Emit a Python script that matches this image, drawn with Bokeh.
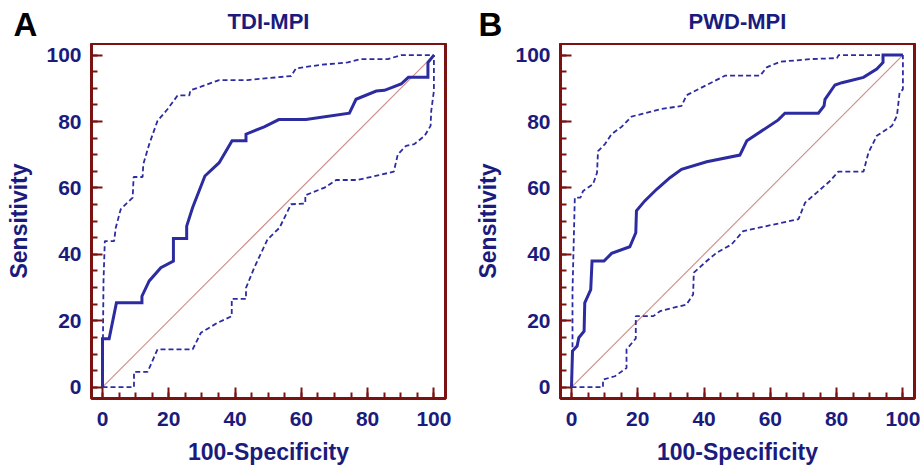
from bokeh.plotting import figure
from bokeh.models import Range1d, FixedTicker, Label
from bokeh.layouts import row, column
from bokeh.embed import file_html
from bokeh.resources import INLINE

# ---------------- data ----------------
panel_letters = ["A", "B"]
panel_titles = ["TDI-MPI", "PWD-MPI"]
x_axis_label = "100-Specificity"
y_axis_label = "Sensitivity"
tick_values = [0, 20, 40, 60, 80, 100]
minor_tick_values = [0, 5, 10, 15, 20, 25, 30, 35, 40, 45, 50, 55, 60, 65, 70, 75, 80, 85, 90, 95, 100]

# Panel A: TDI-MPI ROC curve
a_roc_x = [0, 0, 2.0, 4.2, 11.9, 11.9, 14.1, 17.6, 21.4, 21.4, 25.4, 25.4, 27.2, 30.9, 35.2, 39.1, 43.3,
           43.3, 48.8, 53.2, 61.4, 74.5, 76.5, 82.6, 85.1, 90.1, 92.3, 98.2, 98.2, 100]
a_roc_y = [0, 14.6, 14.6, 25.4, 25.4, 27.4, 32.0, 36.0, 38.0, 44.8, 44.8, 48.5, 54.1, 63.6, 67.6, 74.2, 74.2,
           76.2, 78.4, 80.6, 80.6, 82.5, 86.7, 89.2, 89.4, 91.3, 93.3, 93.3, 97.8, 100]
a_up_x = [0, 0.3, 0.7, 3.5, 4.0, 5.5, 9.1, 9.4, 12.1, 12.3, 14.1, 16.6, 19.6, 22.7, 26.2, 26.5, 29.7, 35.2,
          43.8, 56.9, 58.4, 66.0, 74.0, 78.0, 86.1, 90.1, 100]
a_up_y = [0, 32.0, 44.0, 44.0, 48.0, 53.6, 57.1, 63.3, 63.3, 67.1, 73.2, 80.2, 83.7, 87.9, 87.9, 89.4, 90.5,
          92.5, 92.5, 93.7, 96.0, 97.1, 97.8, 98.8, 98.8, 100, 100]
a_lo_x = [0, 9.5, 9.5, 13.6, 16.6, 27.2, 29.7, 34.7, 39.0, 39.0, 43.3, 43.3, 45.8, 49.8, 53.4, 56.9, 61.2,
          61.2, 67.0, 70.5, 77.0, 87.9, 89.1, 91.6, 94.1, 97.2, 99.0, 99.2, 100, 100]
a_lo_y = [0, 0, 4.6, 4.6, 11.4, 11.4, 16.4, 19.4, 21.4, 26.6, 26.6, 29.9, 36.0, 44.5, 48.0, 55.1, 55.3,
          57.8, 60.1, 62.4, 62.4, 64.9, 70.1, 72.7, 73.2, 75.7, 78.7, 83.2, 89.2, 100]

# Panel B: PWD-MPI ROC curve
b_roc_x = [0, 0.3, 1.7, 2.2, 3.8, 4.0, 5.8, 6.2, 9.8, 12.1, 17.6, 19.4, 19.6, 22.1, 25.7, 29.7, 33.2, 40.8,
           50.8, 52.9, 62.4, 64.4, 74.5, 76.2, 76.5, 79.5, 81.6, 88.1, 92.1, 94.0, 94.0, 100]
b_roc_y = [0, 10.9, 12.4, 14.9, 16.9, 25.4, 29.4, 38.0, 38.0, 40.3, 42.3, 46.5, 53.1, 56.1, 59.6, 63.1, 65.6,
           67.9, 69.9, 74.2, 80.5, 82.5, 82.5, 84.7, 86.7, 91.0, 91.7, 93.3, 95.8, 97.8, 100, 100]
b_up_x = [0, 0.3, 0.3, 1.0, 2.7, 3.5, 6.5, 7.7, 8.0, 10.1, 12.1, 15.1, 18.1, 21.6, 26.7, 33.2, 34.7, 38.8,
          46.3, 56.9, 58.9, 62.9, 72.0, 80.1, 80.6, 100]
b_up_y = [0, 11.5, 28.9, 57.1, 57.1, 59.1, 61.1, 64.6, 71.1, 73.2, 76.2, 78.4, 81.5, 82.4, 83.7, 84.7, 87.9,
          90.0, 93.8, 93.8, 96.3, 98.0, 98.8, 99.1, 100, 100]
b_lo_x = [0, 9.5, 9.5, 13.1, 16.6, 16.6, 19.4, 19.4, 24.7, 26.7, 34.7, 36.7, 36.9, 40.8, 43.8, 48.3, 51.8,
          68.5, 70.5, 74.0, 78.0, 80.5, 88.1, 89.6, 92.1, 96.7, 98.2, 99.0, 100, 100]
b_lo_y = [0, 0, 2.3, 3.3, 5.8, 11.4, 14.7, 21.4, 21.4, 22.9, 24.9, 27.9, 34.5, 38.0, 40.5, 43.0, 47.0,
          50.6, 55.6, 58.6, 62.1, 64.9, 64.9, 70.6, 75.7, 78.7, 81.7, 88.7, 89.7, 100]

diag_x = [0, 100]
diag_y = [0, 100]

# ---------------- style ----------------
NAVY = "#1b1b7d"
CURVE = "#2c2ca0"
FRAME = "#7b1212"
DIAG = "#d08a86"
FONT = "Liberation Sans"
STRIP_H = 43


def make_panel(rx, ry, ux, uy, lx, ly, border_left, border_right, fw):
    p = figure(width=border_left + fw + border_right, height=422, title=None,
               frame_width=fw, frame_height=355,
               x_range=Range1d(-3.32, 103.5), y_range=Range1d(-3.4, 103.5),
               output_backend="svg", toolbar_location=None, tools="",
               min_border_left=border_left, min_border_right=border_right,
               min_border_top=0, min_border_bottom=67)
    p.grid.visible = False
    p.outline_line_color = FRAME
    p.outline_line_width = 3
    p.background_fill_color = "white"
    p.border_fill_color = "white"

    for ax in (p.xaxis[0], p.yaxis[0]):
        ax.ticker = FixedTicker(ticks=tick_values, minor_ticks=minor_tick_values)
        ax.axis_line_color = None
        ax.major_tick_line_color = FRAME
        ax.major_tick_line_width = 2
        ax.minor_tick_line_color = FRAME
        ax.minor_tick_line_width = 2
        ax.major_tick_in = 11
        ax.major_tick_out = 0
        ax.minor_tick_in = 6
        ax.minor_tick_out = 0
        ax.major_label_text_font = FONT
        ax.major_label_text_font_style = "bold"
        ax.major_label_text_font_size = "21px"
        ax.major_label_text_color = NAVY
        ax.axis_label_text_font = FONT
        ax.axis_label_text_font_style = "bold"
        ax.axis_label_text_font_size = "23px"
        ax.axis_label_text_color = NAVY
    p.xaxis.axis_label = x_axis_label
    p.yaxis.axis_label = y_axis_label
    p.xaxis.major_label_standoff = 13
    p.xaxis.axis_label_standoff = 10
    p.yaxis.major_label_standoff = 10
    p.yaxis.axis_label_standoff = 11

    p.line(diag_x, diag_y, line_color=DIAG, line_width=1.1)
    p.line(ux, uy, line_color=CURVE, line_width=1.8, line_dash="5 3")
    p.line(lx, ly, line_color=CURVE, line_width=1.8, line_dash="5 3")
    p.line(rx, ry, line_color=CURVE, line_width=3, line_join="miter")
    return p


# heading strip (panel letters and panel titles) above the two plots
strip = figure(width=922, height=STRIP_H, x_range=Range1d(0, 922), y_range=Range1d(0, STRIP_H),
               x_axis_location=None, y_axis_location=None, min_border=0,
               output_backend="svg", toolbar_location=None, tools="")
strip.grid.visible = False
strip.outline_line_color = None
strip.background_fill_color = "white"
strip.border_fill_color = "white"

letter_x = [13, 478]
title_x = [268, 737]
for i in range(2):
    strip.add_layout(Label(x=letter_x[i], y=STRIP_H - 23.5, x_units="screen", y_units="screen",
                           text=panel_letters[i], text_align="left", text_baseline="middle",
                           text_font=FONT, text_font_style="bold", text_font_size="33px",
                           text_color="black"))
    strip.add_layout(Label(x=title_x[i], y=STRIP_H - 21.3, x_units="screen", y_units="screen",
                           text=panel_titles[i], text_align="center", text_baseline="middle",
                           text_font=FONT, text_font_style="bold", text_font_size="22px",
                           text_color=NAVY))

pa = make_panel(a_roc_x, a_roc_y, a_up_x, a_up_y, a_lo_x, a_lo_y, 91, 7, 354)
pb = make_panel(b_roc_x, b_roc_y, b_up_x, b_up_y, b_lo_x, b_lo_y, 108, 8, 354)

layout = column(strip, row(pa, pb))
open("out.html", "w").write(file_html(layout, INLINE))
